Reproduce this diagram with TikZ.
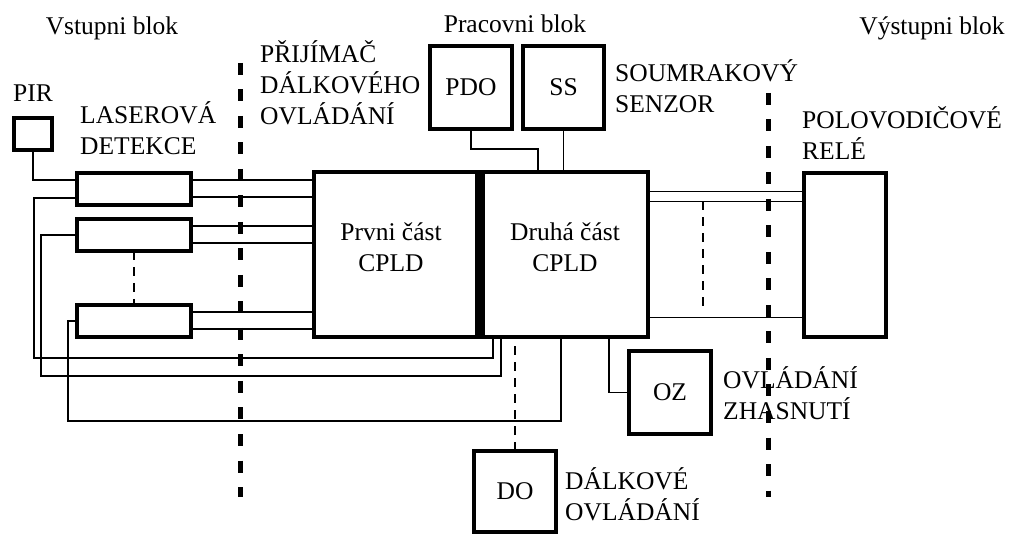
\documentclass[tikz,border=0pt]{standalone}
\usepackage{fontspec}
\setmainfont{Liberation Serif}
\usepackage{tikz}
\usetikzlibrary{positioning,calc}

\begin{document}
\begin{tikzpicture}[x=1pt,y=-1pt,
		font=\fontsize{25.5}{31}\selectfont,
		blok/.style={draw,line width=4.5pt,outer sep=0pt,inner sep=0pt},
		spoj/.style={line width=1.4pt},
		carky/.style={line width=1.4pt,dash pattern=on 9pt off 7pt},
		hranice/.style={line width=5pt,dash pattern=on 12pt off 14.5pt},
		popis/.style={anchor=base west,align=left,inner sep=0pt}]
		\useasboundingbox (0,0) rectangle (1012,534);
		\draw[hranice] (240,63) -- (240,497);
		\draw[hranice] (768,93) -- (768,497);
		\node[blok,minimum width=38pt,minimum height=32pt] (pir) at (33,134) {};
		\foreach \i/\y in {1/189,2/235,3/321}
		\node[blok,minimum width=114pt,minimum height=32pt] (las\i) at (134,\y) {};
		\node[blok,minimum width=166pt,minimum height=165pt] (cpld1) at (397,254.5) {};
		\node[blok,minimum width=168pt,minimum height=165pt] (cpld2) at (564,254.5) {};
		\draw[line width=10pt] (cpld1.north east) -- (cpld1.south east);
		\node[anchor=base,align=center] (cpldtxt1) at (391,272) {Prvni část\\CPLD};
		\node[anchor=base,align=center] (cpldtxt2) at (565,272) {Druhá část\\CPLD};
		\node[blok,minimum width=82pt,minimum height=83pt] (pdo) at (471,87.5) {PDO};
		\node[blok,minimum width=81pt,minimum height=83pt] (ss) at (563.5,87.5) {SS};
		\node[blok,minimum width=82pt,minimum height=83pt] (oz) at (670,392.5) {OZ};
		\node[blok,minimum width=82pt,minimum height=81pt] (do) at (515,491.5) {DO};
		\node[blok,minimum width=82pt,minimum height=164pt] (rele) at (845,255) {};
		\draw[spoj] (pir.south) |- ([yshift=9pt]las1.west);
		\foreach \i in {1,2,3} {
			\draw[spoj] ([yshift=9pt]las\i.east) -- ([yshift=9pt]las\i.east -| cpld1.west);
			\draw[spoj] ([yshift=-8pt]las\i.east) -- ([yshift=-8pt]las\i.east -| cpld1.west);
		}
		\foreach \i/\dy/\xa/\xb/\ya in {1/-9/34/493/358,2/0/41/501/376,3/0/68/561/421} {
			\coordinate (ohyb\i) at (\xa,\ya);
			\coordinate (vstup\i) at (\xb,\ya);
			\draw[spoj] ([yshift=\dy pt]las\i.west) -| (ohyb\i) -- (vstup\i) -- (vstup\i |- cpld2.south);
		}
		\draw[carky] (las2.south) -- (las3.north);
		\coordinate (pdozlom) at (538,149);
		\draw[spoj] (pdo.south) |- (pdozlom) -- (pdozlom |- cpld2.north);
		\draw[spoj] (ss.south) -- (ss.south |- cpld2.north);
		\draw[spoj] (oz.west) -| ([xshift=45pt]cpld2.south);
		\draw[carky] (do.north) -- (do.north |- cpld2.south);
		\foreach \dy in {63,53,-63}
		\draw[spoj] ([yshift=\dy pt]cpld2.east) -- ([yshift=\dy pt]cpld2.east -| rele.west);
		\draw[carky] ([xshift=55pt,yshift=53pt]cpld2.east) -- ([xshift=55pt,yshift=-57pt]cpld2.east);
		\node[anchor=base] (vstuptxt) at (112,35) {Vstupni blok};
		\node[anchor=base] (practxt) at (515,33) {Pracovni blok};
		\node[anchor=base] (vystuptxt) at (932,35) {Výstupni blok};
		\node[anchor=base] (pirtxt) at (33,102) {PIR};
		\node[popis] (lastxt) at (80,155) {LASEROVÁ\\DETEKCE};
		\node[popis] (prijtxt) at (260,125) {PŘIJÍMAČ\\DÁLKOVÉHO\\OVLÁDÁNÍ};
		\node[popis] (sstxt) at (615,113) {SOUMRAKOVÝ\\SENZOR};
		\node[popis] (reletxt) at (802,160) {POLOVODIČOVÉ\\RELÉ};
		\node[popis] (oztxt) at (723,419) {OVLÁDÁNÍ\\ZHASNUTÍ};
		\node[popis] (dotxt) at (565,520) {DÁLKOVÉ\\OVLÁDÁNÍ};
	\end{tikzpicture}
\end{document}
